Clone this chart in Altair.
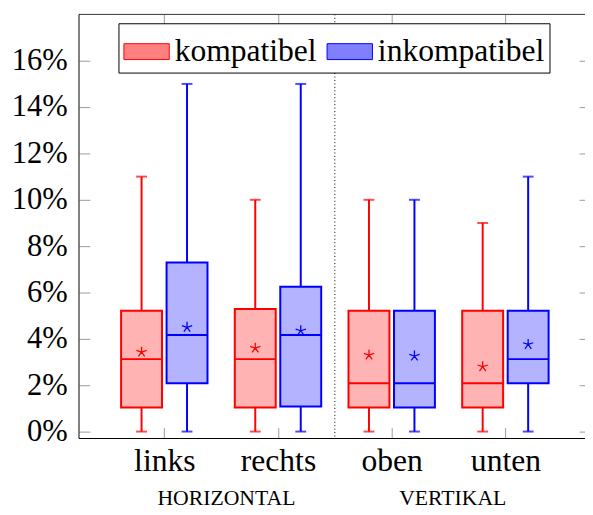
import altair as alt
import pandas as pd

# ---------------- data (values in percent) ----------------
categories = ["links", "rechts", "oben", "unten"]
conditions = ["kompatibel", "inkompatibel"]

komp_lo = [0, 0, 0, 0]
komp_q1 = [1.04, 1.04, 1.04, 1.04]
komp_med = [3.125, 3.125, 2.08, 2.08]
komp_q3 = [5.21, 5.29, 5.21, 5.21]
komp_hi = [11, 10, 10, 9]
komp_mean = [3.43, 3.6, 3.3, 2.8]

inkomp_lo = [0, 0, 0, 0]
inkomp_q1 = [2.08, 1.08, 1.04, 2.08]
inkomp_med = [4.17, 4.17, 2.08, 3.125]
inkomp_q3 = [7.29, 6.25, 5.21, 5.21]
inkomp_hi = [15, 15, 10, 11]
inkomp_mean = [4.5, 4.35, 3.26, 3.76]

group_labels = ["HORIZONTAL", "VERTIKAL"]
group_pos = [1.546, 3.537]
separator_pos = [2.5]
y_tick_values = [0, 2, 4, 6, 8, 10, 12, 14, 16]
x_tick_values = [1, 2, 3, 4]

# ---------------- tables ----------------
series = {
    "kompatibel": (komp_lo, komp_q1, komp_med, komp_q3, komp_hi, komp_mean, -0.2),
    "inkompatibel": (inkomp_lo, inkomp_q1, inkomp_med, inkomp_q3, inkomp_hi, inkomp_mean, 0.2),
}
rows = []
for cond, (lo, q1, med, q3, hi, mean, off) in series.items():
    for i, cat in enumerate(categories):
        p = i + 1 + off
        rows.append(dict(cat=cat, cond=cond, pos=p, left=p - 0.18, right=p + 0.18,
                         lo=lo[i], q1=q1[i], med=med[i], q3=q3[i], hi=hi[i], mean=mean[i]))
df = pd.DataFrame(rows)
groups_df = pd.DataFrame({"pos": group_pos, "label": group_labels})
sep_df = pd.DataFrame({"pos": separator_pos})
dummy = pd.DataFrame({"a": [0]})

W, H = 513, 430
FONT = "Liberation Serif"
TICK = "#999999"

x_scale = alt.Scale(domain=[0.25, 4.70], nice=False, zero=False)
y_scale = alt.Scale(domain=[-0.3, 18.0], nice=False, zero=False)
# legend scales (boxes)
stroke_scale = alt.Scale(domain=conditions, range=["#ff0000", "#0000ff"])
fill_scale = alt.Scale(domain=conditions, range=["#ff8080", "#8080ff"])
# line colour scale for the other layers (own domain order so it is not merged with the legend)
line_scale = alt.Scale(domain=conditions[::-1], range=["#0000ff", "#ff0000"])

cat_expr = "[" + ",".join("'%s'" % c for c in categories) + "][datum.value - 1]"

x_bottom = alt.Axis(orient="bottom", values=x_tick_values, labelExpr=cat_expr, offset=-11,
                    tickSize=11, tickColor=TICK, domain=False, grid=False, title=None,
                    labelFont=FONT, labelFontSize=32, labelColor="black",
                    labelBaseline="alphabetic", labelPadding=32)
y_left = alt.Axis(orient="left", values=y_tick_values, labelExpr="datum.value + '%'", offset=-11,
                  tickSize=11, tickColor=TICK, domain=False, grid=False, title=None,
                  labelFont=FONT, labelFontSize=31, labelColor="black", labelPadding=12)
x_top = alt.Axis(orient="top", values=x_tick_values, labels=False, offset=-11, tickSize=11,
                 tickColor=TICK, domain=False, grid=False, title=None)
y_right = alt.Axis(orient="right", values=y_tick_values, labels=False, offset=-6, tickSize=6,
                   tickColor=TICK, domain=False, grid=False, title=None)

legend = alt.Legend(orient="none", legendX=40, legendY=9, direction="horizontal", title=None)

base = alt.Chart(df)

whisk_lo = base.mark_rule(strokeWidth=2).encode(
    x=alt.X("pos:Q", scale=x_scale, axis=x_bottom),
    y=alt.Y("lo:Q", scale=y_scale, axis=y_left),
    y2="q1:Q",
    color=alt.Color("cond:N", scale=line_scale, legend=None),
)
whisk_hi = base.mark_rule(strokeWidth=2).encode(
    x=alt.X("pos:Q", scale=x_scale, axis=None),
    y=alt.Y("q3:Q", scale=y_scale, axis=None),
    y2="hi:Q",
    color=alt.Color("cond:N", scale=line_scale, legend=None),
)

caps = base.transform_fold(["lo", "hi"], as_=["kind", "val"]).mark_tick(
    orient="horizontal", size=11, thickness=2
).encode(
    x=alt.X("pos:Q", scale=x_scale, axis=x_top),
    y=alt.Y("val:Q", scale=y_scale, axis=y_right),
    color=alt.Color("cond:N", scale=line_scale, legend=None),
)

boxes = base.mark_rect(fillOpacity=0.6, strokeWidth=2).encode(
    x=alt.X("left:Q", scale=x_scale, axis=None),
    x2="right:Q",
    y=alt.Y("q1:Q", scale=y_scale, axis=None),
    y2="q3:Q",
    fill=alt.Fill("cond:N", scale=fill_scale, legend=legend),
    stroke=alt.Stroke("cond:N", scale=stroke_scale, legend=legend),
)

medians = base.mark_rule(strokeWidth=2).encode(
    x=alt.X("left:Q", scale=x_scale, axis=None),
    x2="right:Q",
    y=alt.Y("med:Q", scale=y_scale, axis=None),
    color=alt.Color("cond:N", scale=line_scale, legend=None),
)

STAR = "M0,0L0,-1M0,0L0.951,-0.309M0,0L0.588,0.809M0,0L-0.588,0.809M0,0L-0.951,-0.309"
means = base.mark_point(shape=STAR, filled=False, size=120, strokeWidth=1.3, opacity=1).encode(
    x=alt.X("pos:Q", scale=x_scale, axis=None),
    y=alt.Y("mean:Q", scale=y_scale, axis=None),
    color=alt.Color("cond:N", scale=line_scale, legend=None),
)

separator = alt.Chart(sep_df).mark_rule(color="black", strokeWidth=1, strokeDash=[1, 2.5]).encode(
    x=alt.X("pos:Q", scale=x_scale, axis=None),
)

group_text = alt.Chart(groups_df).mark_text(
    font=FONT, fontSize=22, color="black", baseline="alphabetic", align="center"
).encode(
    x=alt.X("pos:Q", scale=x_scale, axis=None),
    y=alt.value(497),
    text="label:N",
)

frame_top = alt.Chart(dummy).mark_rule(color="#333333", strokeWidth=1).encode(
    x=alt.value(0), x2=alt.value(W), y=alt.value(0))
frame_bottom = alt.Chart(dummy).mark_rule(color="black", strokeWidth=1).encode(
    x=alt.value(0), x2=alt.value(W), y=alt.value(H))
frame_left = alt.Chart(dummy).mark_rule(color="black", strokeWidth=1).encode(
    x=alt.value(0), y=alt.value(0), y2=alt.value(H))

chart = alt.layer(
    whisk_lo, whisk_hi, caps, boxes, medians, means, separator, group_text,
    frame_top, frame_bottom, frame_left,
).resolve_axis(
    x="independent", y="independent"
).properties(
    width=W, height=H,
    autosize=alt.AutoSizeParams(type="none"),
    padding={"left": 72, "top": 3, "right": 0, "bottom": 69},
).configure(
    font=FONT,
).configure_view(
    stroke=None,
).configure_legend(
    labelFont=FONT, labelFontSize=32, labelColor="black", labelOffset=5, labelLimit=400,
    symbolType="M-1,-0.35H1V0.35H-1Z", symbolSize=2116, symbolStrokeWidth=1,
    columnPadding=8, padding=5, strokeColor="black", fillColor="white", cornerRadius=0,
    symbolOpacity=1,
)

chart.save("out.html", embed_options={"renderer": "svg", "actions": False})
